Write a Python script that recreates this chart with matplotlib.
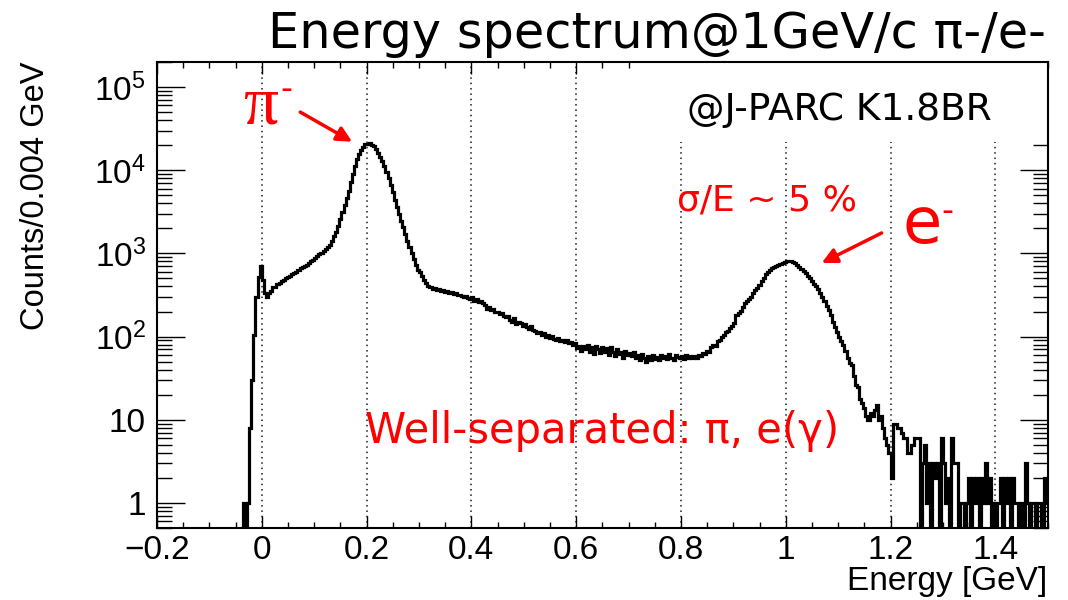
import numpy as np
import matplotlib.pyplot as plt
from matplotlib.patches import Rectangle
from matplotlib.ticker import FixedLocator, FixedFormatter, MultipleLocator

plt.rcParams['mathtext.fontset'] = 'custom'
plt.rcParams['mathtext.rm'] = 'Liberation Sans'
plt.rcParams['mathtext.it'] = 'Liberation Sans:italic'

# energy binning: 0.004 GeV bins from -0.2 to 1.5 GeV
e_lo, e_hi, bin_w = -0.2, 1.5, 0.004

# counts per bin, one row per 0.1 GeV (25 bins)
counts = [
    # -0.2 .. -0.1
    0, 0, 0, 0, 0, 0, 0, 0, 0, 0, 0, 0, 0, 0, 0, 0, 0, 0, 0, 0, 0, 0, 0, 0, 0,
    # -0.1 .. 0.0
    0, 0, 0, 0, 0, 0, 0, 0, 0, 0, 0, 0, 0, 0, 0, 0, 1, 0, 1, 8, 30, 105, 300, 520, 700,
    # 0.0 .. 0.1
    480, 330, 300, 335, 355, 390, 395, 425, 440, 470, 475, 505, 520, 535, 565, 580, 605, 630, 665, 680,
    705, 735, 770, 805, 840,
    # 0.1 .. 0.2
    880, 920, 970, 1020, 1080, 1130, 1190, 1250, 1410, 1600, 1830, 2130, 2600, 3150, 3800, 4650, 5700,
    7200, 9000, 11300, 13500, 15500, 17500, 19100, 20400,
    # 0.2 .. 0.3
    20900, 21000, 20300, 19300, 17800, 16200, 14600, 12800, 11200, 9600, 8000, 6600, 5400, 4400, 3600,
    2950, 2450, 2050, 1720, 1420, 1180, 1000, 850, 730, 640,
    # 0.3 .. 0.4
    590, 530, 480, 440, 410, 390, 370, 380, 365, 370, 355, 360, 345, 350, 335, 340, 325, 330, 315, 320,
    310, 300, 305, 295, 285,
    # 0.4 .. 0.5
    300, 270, 285, 260, 265, 250, 240, 215, 225, 210, 215, 200, 195, 185, 190, 175, 170, 175, 160, 150,
    165, 140, 150, 145, 135,
    # 0.5 .. 0.6
    140, 130, 125, 135, 120, 118, 110, 115, 105, 110, 100, 104, 97, 102, 94, 90, 96, 88, 92, 85, 90, 83,
    87, 80, 84,
    # 0.6 .. 0.7
    72, 78, 68, 76, 70, 80, 66, 74, 62, 78, 70, 64, 75, 66, 72, 60, 74, 65, 58, 70, 62, 66, 56, 68, 60,
    # 0.7 .. 0.8
    64, 58, 66, 55, 60, 52, 62, 56, 50, 58, 53, 60, 54, 57, 52, 60, 55, 58, 54, 61, 56, 52, 60, 57, 55,
    # 0.8 .. 0.9
    58, 54, 60, 56, 59, 55, 58, 56, 60, 58, 63, 61, 68, 66, 74, 80, 78, 88, 92, 98, 105, 112, 118, 126, 135,
    # 0.9 .. 1.0
    145, 180, 190, 205, 225, 250, 265, 285, 300, 330, 360, 385, 420, 460, 510, 560, 600, 630, 660, 680,
    700, 720, 745, 770, 790,
    # 1.0 .. 1.1
    800, 810, 800, 790, 760, 730, 690, 650, 610, 580, 540, 500, 470, 430, 400, 370, 330, 300, 265, 235,
    210, 180, 150, 130, 115,
    # 1.1 .. 1.2
    100, 88, 80, 68, 55, 48, 46, 34, 26, 25, 18, 16, 14, 11, 10, 12, 11, 13, 15, 10, 11, 8, 6, 5, 4,
    # 1.2 .. 1.3
    2, 9, 9, 8, 8, 7, 6, 6, 4, 4, 5, 6, 6, 6, 0, 3, 5, 1, 3, 0, 3, 2, 3, 0, 6,
    # 1.3 .. 1.4
    3, 1, 2, 0, 6, 3, 3, 0, 1, 1, 0, 1, 2, 0, 2, 1, 2, 0, 2, 1, 3, 1, 2, 0, 1,
    # 1.4 .. 1.5
    0, 1, 2, 0, 2, 1, 2, 0, 2, 1, 1, 0, 1, 0, 3, 1, 0, 1, 1, 0, 1, 1, 0, 2, 1,
]

x_ticks = [-0.2, 0, 0.2, 0.4, 0.6, 0.8, 1, 1.2, 1.4]
x_ticklabels = ['\u22120.2', '0', '0.2', '0.4', '0.6', '0.8', '1', '1.2', '1.4']
y_ticks = [1, 10, 1e2, 1e3, 1e4, 1e5]
y_ticklabels = ['1', '10', '$10^{2}$', '$10^{3}$', '$10^{4}$', '$10^{5}$']
grid_x = [0, 0.2, 0.4, 0.6, 0.8, 1.0, 1.2, 1.4]

counts = np.array(counts, dtype=float)
edges = e_lo + bin_w * np.arange(counts.size + 1)

fig = plt.figure(figsize=(10.68, 6.0), dpi=100)
ax = fig.add_axes([0.147, 0.12, 0.834, 0.7767])

# empty bins go below the frame like ROOT does on a log axis
ax.stairs(np.where(counts > 0, counts, 1e-2), edges, color='black', lw=2.3, baseline=None, zorder=3)

ax.set_yscale('log')
ax.set_xlim(e_lo, e_hi)
ax.set_ylim(0.5, 2.0e5)

for gx in grid_x:
    ax.axvline(gx, color='0.1', lw=1.1, ls=(0, (1, 2.5)), zorder=1)

# white box behind the facility label
ax.add_patch(Rectangle((0.553, 0.828), 0.447, 0.172, transform=ax.transAxes,
                       facecolor='white', edgecolor='none', zorder=1.8))

ax.xaxis.set_major_locator(FixedLocator(x_ticks))
ax.xaxis.set_major_formatter(FixedFormatter(x_ticklabels))
ax.xaxis.set_minor_locator(MultipleLocator(0.05))
ax.yaxis.set_major_locator(FixedLocator(y_ticks))
ax.yaxis.set_major_formatter(FixedFormatter(y_ticklabels))
ax.yaxis.set_minor_locator(FixedLocator([m * 10.0 ** d for d in range(-1, 6) for m in range(2, 10)]))

ax.tick_params(which='both', direction='in', top=True, right=True, width=1.0, color='black')
ax.tick_params(axis='x', which='major', length=8.6, pad=5, labelsize=24)
ax.tick_params(axis='x', which='minor', length=4.3)
ax.tick_params(axis='y', which='major', length=20, pad=8, labelsize=24)
ax.tick_params(axis='y', which='minor', length=10.5)
for lab in ax.get_xticklabels() + ax.get_yticklabels():
    lab.set_family('Liberation Sans')
for sp in ax.spines.values():
    sp.set_linewidth(1.5)

fig.text(0.981, 0.0167, 'Energy [GeV]', ha='right', va='baseline', fontsize=24, family='Liberation Sans')
fig.text(0.033, 0.8967, 'Counts/0.004 GeV', rotation=90, ha='center', va='top', fontsize=23.5,
         family='Liberation Sans')

fig.text(0.251, 0.92, 'Energy spectrum@1GeV/c \u03c0-/e-', ha='left', va='baseline', fontsize=35.6,
         family='DejaVu Sans')

ax.text(0.595, 0.8755, '@J-PARC K1.8BR', transform=ax.transAxes, ha='left', va='baseline',
        fontsize=27, family='DejaVu Sans', zorder=4)

red = '#ff0000'
ax.text(0.097, 0.869, '\u03c0', transform=ax.transAxes, ha='left', va='baseline', fontsize=50,
        family='Liberation Serif', color=red)
ax.text(0.139, 0.9206, '-', transform=ax.transAxes, ha='left', va='baseline', fontsize=24,
        family='DejaVu Sans', color=red)
ax.text(0.837, 0.6116, 'e', transform=ax.transAxes, ha='left', va='baseline', fontsize=46,
        family='DejaVu Sans', color=red)
ax.text(0.881, 0.659, '-', transform=ax.transAxes, ha='left', va='baseline', fontsize=24,
        family='DejaVu Sans', color=red)
ax.text(0.5836, 0.682, '\u03c3/E ~ 5 %', transform=ax.transAxes, ha='left', va='baseline',
        fontsize=26, family='DejaVu Sans', color=red)
ax.text(0.2334, 0.182, 'Well-separated: \u03c0, e(\u03b3)', transform=ax.transAxes, ha='left',
        va='baseline', fontsize=30, family='DejaVu Sans', color=red)

# arrows pointing at the pion and electron peaks
arrow = dict(arrowstyle='-|>,head_length=0.9,head_width=0.45', color=red, lw=2.5, shrinkA=0, shrinkB=0)
ax.annotate('', xy=(0.1725, 2.2e4), xytext=(0.0734, 5.0e4), arrowprops=arrow)
ax.annotate('', xy=(1.0686, 767), xytext=(1.183, 1760), arrowprops=arrow)

fig.savefig('out.png', dpi=100)
